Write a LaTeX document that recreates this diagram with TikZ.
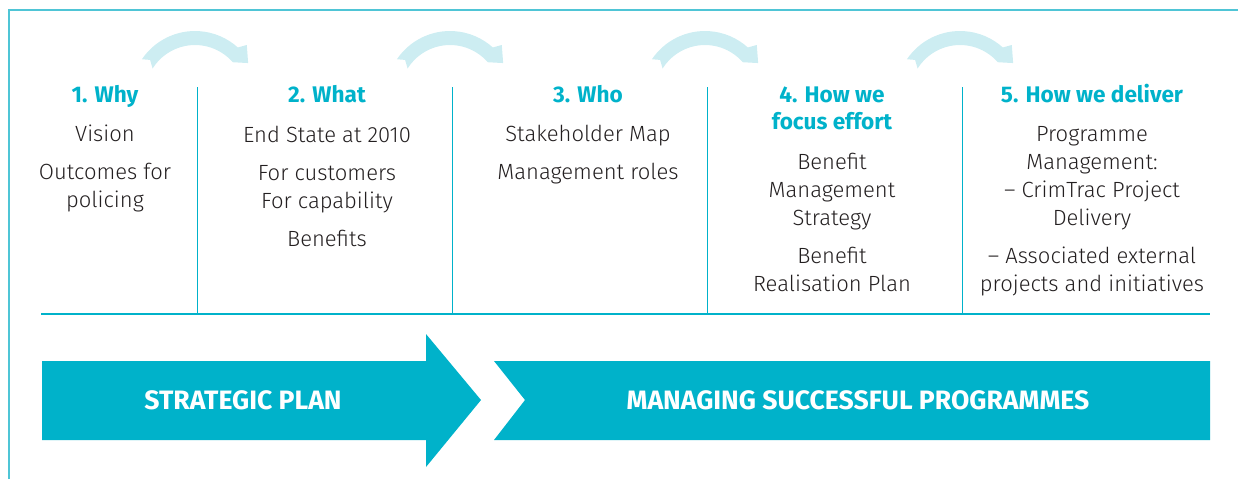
\documentclass[tikz,border=0pt]{standalone}
\usepackage{fontspec}
\setmainfont{Fira Sans Light}[BoldFont={Fira Sans Bold}]
\definecolor{aqua}{HTML}{00B2CA}
\definecolor{paleaqua}{HTML}{CDEDF2}
\definecolor{framecol}{HTML}{4FC5D6}
\definecolor{ink}{HTML}{231F20}

\begin{document}
\begin{tikzpicture}[x=0.5pt,y=-0.5pt,
	head/.style={text=aqua,font=\bfseries\fontsize{11.3}{13.5}\selectfont,align=center,anchor=base,inner sep=0pt},
	body/.style={text=ink,font=\fontsize{11}{14}\selectfont,align=center,anchor=base,inner sep=0pt},
	banner/.style={text=white,font=\bfseries\fontsize{13.3}{15}\selectfont,inner sep=0pt},
	rule/.style={draw=aqua,line width=0.5pt}]
	\useasboundingbox (0,0) rectangle (1238,479);
	\draw[framecol,line width=1pt] (9,479)--(9,10)--(1238,10);
	% curved arrows between the columns
	\foreach \cx in {195,450,705,960}{
		\begin{scope}[shift={(\cx,95)},y=0.5pt]
			\fill[paleaqua] (146:64) arc[start angle=146,end angle=48,radius=64] -- (44:72) -- (31:62) -- (41:50) arc[start angle=41,end angle=148,radius=50] -- (142:57) -- cycle;
		\end{scope}}
	% headings (placed by the baseline of their last line)
	\node (why) at (105,102)[head] {1. Why};
	\node (what) at (327,102)[head] {2. What};
	\node (who) at (588,102)[head] {3. Who};
	\node (focus) at (832,129)[head] {4. How we\\focus effort};
	\node (deliver) at (1092,102)[head] {5. How we deliver};
	% column texts
	\node (vision) at (105,207)[body] {Vision\\[5pt]Outcomes for\\policing};
	\node (endstate) at (327,246)[body] {End State at 2010\\[5pt]For customers\\For capability\\[5pt]Benefits};
	\node (roles) at (588,179)[body] {Stakeholder Map\\[5pt]Management roles};
	\node (strategy) at (832,291)[body] {Benefit\\Management\\Strategy\\[5pt]Benefit\\Realisation Plan};
	\node (delivery) at (1092,291)[body] {Programme\\Management:\\-- CrimTrac Project\\Delivery\\[5pt]-- Associated external\\projects and initiatives};
	% rules
	\draw[rule,line width=1pt] (41,314)--(1210,314);
	\foreach \sx in {197,452,707,962}
		\draw[rule] (\sx,87)--(\sx,314);
	% bottom banners
	\fill[aqua] (42,361)--(426,361)--(426,334)--(481,400)--(426,467)--(426,440)--(42,440)--cycle;
	\fill[aqua] (494,361)--(1210,361)--(1210,440)--(494,440)--(525,400)--cycle;
	\node (plan) at (243,400)[banner] {STRATEGIC PLAN};
	\node (msp) at (858,400)[banner] {MANAGING SUCCESSFUL PROGRAMMES};
\end{tikzpicture}
\end{document}
